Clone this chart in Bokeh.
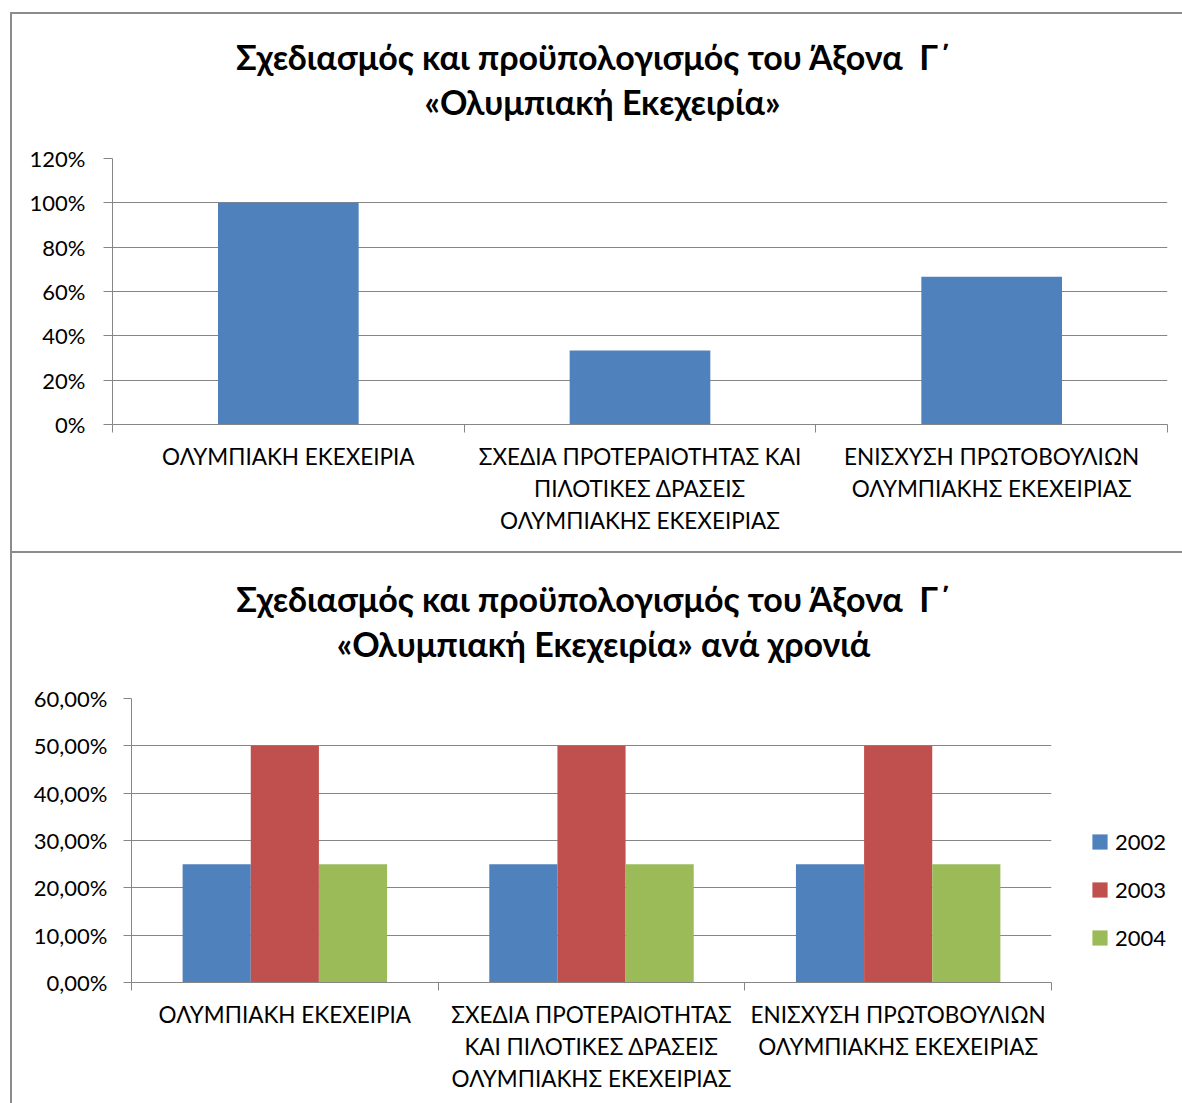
from bokeh.plotting import figure
from bokeh.models import Range1d, FixedTicker, Legend, LegendItem, LinearAxis
from bokeh.layouts import column
from bokeh.embed import file_html
from bokeh.resources import INLINE

FONT = "Lato"
GRAY = "#868686"
BORDER = "#8c8c8c"

# ---------------- data ----------------
title_line1 = "Σχεδιασμός και προϋπολογισμός του Άξονα\u00a0 Γ΄"
title_top_line2 = "«Ολυμπιακή Εκεχειρία»"
title_bottom_line2 = "«Ολυμπιακή Εκεχειρία» ανά χρονιά"

categories_top = [
    "ΟΛΥΜΠΙΑΚΗ ΕΚΕΧΕΙΡΙΑ",
    "ΣΧΕΔΙΑ ΠΡΟΤΕΡΑΙΟΤΗΤΑΣ ΚΑΙ\nΠΙΛΟΤΙΚΕΣ ΔΡΑΣΕΙΣ\nΟΛΥΜΠΙΑΚΗΣ ΕΚΕΧΕΙΡΙΑΣ",
    "ΕΝΙΣΧΥΣΗ ΠΡΩΤΟΒΟΥΛΙΩΝ\nΟΛΥΜΠΙΑΚΗΣ ΕΚΕΧΕΙΡΙΑΣ",
]
share_top = [100.0, 33.33, 66.67]
y_ticks_top = [0, 20, 40, 60, 80, 100, 120]
y_labels_top = ["0%", "20%", "40%", "60%", "80%", "100%", "120%"]

categories_bottom = [
    "ΟΛΥΜΠΙΑΚΗ ΕΚΕΧΕΙΡΙΑ",
    "ΣΧΕΔΙΑ ΠΡΟΤΕΡΑΙΟΤΗΤΑΣ\nΚΑΙ ΠΙΛΟΤΙΚΕΣ ΔΡΑΣΕΙΣ\nΟΛΥΜΠΙΑΚΗΣ ΕΚΕΧΕΙΡΙΑΣ",
    "ΕΝΙΣΧΥΣΗ ΠΡΩΤΟΒΟΥΛΙΩΝ\nΟΛΥΜΠΙΑΚΗΣ ΕΚΕΧΕΙΡΙΑΣ",
]
years = ["2002", "2003", "2004"]
share_2002 = [25.0, 25.0, 25.0]
share_2003 = [50.0, 50.0, 50.0]
share_2004 = [25.0, 25.0, 25.0]
y_ticks_bottom = [0, 10, 20, 30, 40, 50, 60]
y_labels_bottom = ["0,00%", "10,00%", "20,00%", "30,00%", "40,00%", "50,00%", "60,00%"]

year_colors = ["#4F81BD", "#C0504D", "#9BBB59"]


def make_fig(categories, ymax, y_ticks, y_labels, frame_w, frame_h,
             b_left, b_top, b_right, b_bottom, tick_out, label_standoff):
    n = len(categories)
    p = figure(frame_width=frame_w, frame_height=frame_h,
               min_border_left=b_left, min_border_top=b_top,
               min_border_right=b_right, min_border_bottom=b_bottom,
               x_range=Range1d(0, n), y_range=Range1d(0, ymax),
               output_backend="svg", toolbar_location=None, tools="")
    if "frame_align" in p.properties():
        p.frame_align = False
    p.outline_line_color = None
    p.background_fill_color = "white"
    p.border_fill_color = "white"
    p.xgrid.visible = False
    p.ygrid.grid_line_color = GRAY
    p.ygrid.grid_line_width = 1

    centers = [i + 0.5 for i in range(n)]
    xa = p.xaxis[0]
    xa.ticker = FixedTicker(ticks=centers, minor_ticks=list(range(n + 1)))
    xa.major_label_overrides = {c: lab for c, lab in zip(centers, categories)}
    xa.major_tick_out = 0
    xa.major_tick_in = 0
    xa.minor_tick_out = 8
    xa.minor_tick_in = 0
    xa.minor_tick_line_color = GRAY
    xa.axis_line_color = GRAY
    xa.major_label_text_font = FONT
    xa.major_label_text_font_size = "22.5px"
    xa.major_label_text_color = "black"
    xa.major_label_text_line_height = 1.2
    xa.major_label_standoff = 10

    ya = p.yaxis[0]
    ya.ticker = FixedTicker(ticks=y_ticks)
    ya.major_label_overrides = {t: lab for t, lab in zip(y_ticks, y_labels)}
    ya.major_tick_out = tick_out
    ya.major_tick_in = 0
    ya.minor_tick_out = 0
    ya.minor_tick_in = 0
    ya.major_tick_line_color = GRAY
    ya.axis_line_color = GRAY
    ya.major_label_text_font = FONT
    ya.major_label_text_font_size = "22px"
    ya.major_label_text_color = "black"
    ya.major_label_standoff = label_standoff
    return p, centers


def add_title_lines(p, n, frame_left, frame_w, lines):
    """Each title line is an unlined axis above the plot whose single label
    is centred on the given page x position (px)."""
    for txt, center_px, standoff in lines:   # nearest to the frame first
        x = (center_px - frame_left) / frame_w * n
        ax = LinearAxis(ticker=FixedTicker(ticks=[x]),
                        major_label_overrides={x: txt},
                        axis_line_color=None, major_tick_line_color=None,
                        minor_tick_line_color=None, major_tick_out=0,
                        major_tick_in=0, minor_tick_out=0, minor_tick_in=0,
                        major_label_standoff=standoff,
                        major_label_text_font=FONT,
                        major_label_text_font_style="bold",
                        major_label_text_font_size="34px",
                        major_label_text_color="black")
        p.add_layout(ax, "above")


# ---------------- top chart ----------------
p1, c1 = make_fig(categories_top, 120, y_ticks_top, y_labels_top,
                  1053, 264, 100, 144, 17, 129, 9, 18)
p1.vbar(x=c1, top=share_top, width=0.4, fill_color=year_colors[0], line_color=None)
add_title_lines(p1, 3, 112, 1053, [(title_top_line2, 601, 37), (title_line1, 593, 1)])
p1.margin = (12, 0, 0, 10)
p1.styles = {"border-top": f"2px solid {BORDER}", "border-left": f"2px solid {BORDER}"}

# ---------------- bottom chart ----------------
p2, c2 = make_fig(categories_bottom, 60, y_ticks_bottom, y_labels_bottom,
                  918, 282, 119, 145, 133, 123, 8, 16)
bw = 2.0 / 9.0
items = []
for k, (yr, vals) in enumerate(zip(years, [share_2002, share_2003, share_2004])):
    xs = [c + (k - 1) * bw for c in c2]
    r = p2.vbar(x=xs, top=vals, width=bw, fill_color=year_colors[k], line_color=None)
    items.append(LegendItem(label=yr, renderers=[r]))
add_title_lines(p2, 3, 131, 918, [(title_bottom_line2, 602, 35), (title_line1, 593, 1)])
lg = Legend(items=items, location=(39, 31), padding=0, margin=0,
            border_line_color=None, background_fill_alpha=0,
            glyph_width=19, glyph_height=19, label_height=26, spacing=21,
            label_standoff=6, label_text_font=FONT, label_text_font_size="22px",
            label_text_color="black")
p2.add_layout(lg, "right")
p2.margin = (0, 0, 0, 10)
p2.styles = {"border-top": f"2px solid {BORDER}", "border-left": f"2px solid {BORDER}"}

layout = column(p1, p2, spacing=0)
open("out.html", "w").write(file_html(layout, INLINE))
